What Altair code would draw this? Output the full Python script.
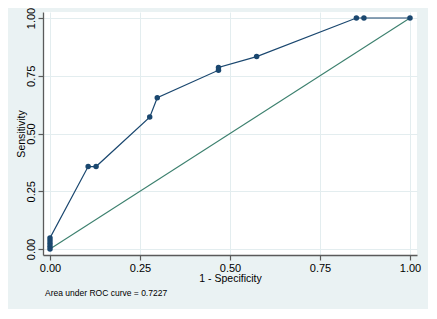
import altair as alt
import pandas as pd

# ROC curve points (1 - specificity, sensitivity)
fpr = [0.0, 0.0, 0.0, 0.0, 0.0, 0.106, 0.128, 0.277, 0.298, 0.468, 0.468, 0.574, 0.851, 0.872, 1.0]
sens = [0.0, 0.012, 0.024, 0.036, 0.048, 0.357, 0.357, 0.571, 0.655, 0.774, 0.786, 0.833, 1.0, 1.0, 1.0]
diag_x = [0.0, 1.0]
diag_y = [0.0, 1.0]
tick_vals = [0.0, 0.25, 0.5, 0.75, 1.0]
note = ["Area under ROC curve = 0.7227"]

roc = pd.DataFrame({"fpr": fpr, "sens": sens, "ord": list(range(len(fpr)))})
diag = pd.DataFrame({"fpr": diag_x, "sens": diag_y, "ord": [0, 1]})
note_df = pd.DataFrame({"t": note})

FONT = "Liberation Sans"
NAVY = "#1a476f"
TEAL = "#3c806e"

xscale = alt.Scale(domain=[-0.01944, 1.01944], nice=False, zero=False)
yscale = alt.Scale(domain=[-0.026, 1.026], nice=False, zero=False)

xaxis = alt.Axis(values=tick_vals, format=".2f", title="1 - Specificity",
                 titleFontSize=10.5, titleFontWeight="normal", titleFont=FONT,
                 titleColor="#000000", titleBaseline="alphabetic", titleY=26.5,
                 labelFont=FONT, labelFontSize=11, labelColor="#000000",
                 labelPadding=2, tickSize=5, labelFlush=False, labelOverlap=False)
yaxis = alt.Axis(values=tick_vals, format=".2f", title="Sensitivity",
                 titleFontSize=10.5, titleFontWeight="normal", titleFont=FONT,
                 titleColor="#000000", titleAngle=270, titleBaseline="alphabetic",
                 titleX=-19,
                 labelFont=FONT, labelFontSize=11, labelColor="#000000",
                 labelAngle=270, labelAlign="center", labelBaseline="alphabetic",
                 labelPadding=3.5, tickSize=5, labelFlush=False, labelOverlap=False)

base_x = alt.X("fpr:Q", scale=xscale, axis=xaxis)
base_y = alt.Y("sens:Q", scale=yscale, axis=yaxis)

line = alt.Chart(roc).mark_line(color=NAVY, strokeWidth=1.2).encode(
    x=base_x, y=base_y, order="ord:Q")
pts = alt.Chart(roc).mark_point(filled=True, color=NAVY, size=30, opacity=1).encode(
    x="fpr:Q", y="sens:Q")
dline = alt.Chart(diag).mark_line(color=TEAL, strokeWidth=1.1).encode(
    x="fpr:Q", y="sens:Q", order="ord:Q")
txt = alt.Chart(note_df).mark_text(align="left", baseline="alphabetic", font=FONT,
                                   fontSize=8.5, color="#000000").encode(
    x=alt.value(2), y=alt.value(284), text="t:N")

chart = alt.layer(line, dline, pts, txt).properties(
    width=374, height=243,
    autosize=alt.AutoSizeParams(type="none"),
    padding={"left": 35, "top": 4, "right": 11, "bottom": 54},
    background="#EAF2F3",
).configure_view(fill="white", strokeWidth=0).configure_axis(
    domainColor="#5a5a5a", domainWidth=1.3, tickColor="#5a5a5a", tickWidth=1.2,
    gridColor="#E3EDEF", gridWidth=1, grid=True,
)

chart.save("out.html", embed_options={"renderer": "svg", "actions": False})
